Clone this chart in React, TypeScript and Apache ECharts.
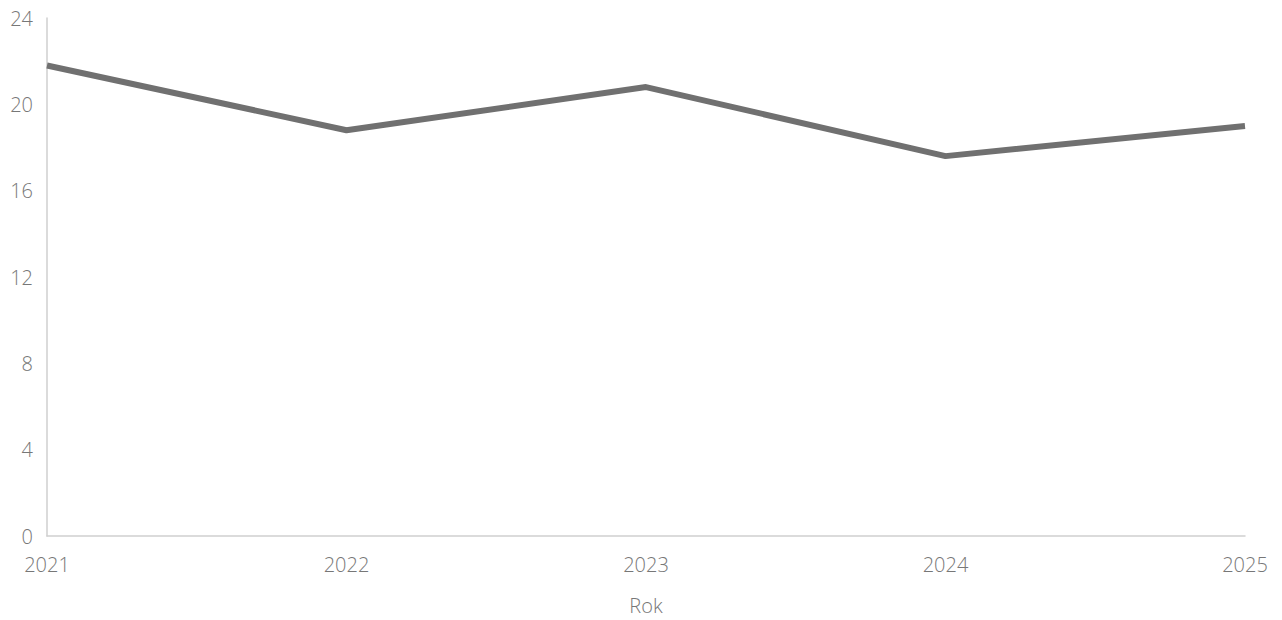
import React, { useEffect, useRef } from "react";
import * as echarts from "echarts";

const years = ["2021", "2022", "2023", "2024", "2025"];
const values = [21.8, 18.8, 20.8, 17.6, 19.0];
const xAxisName = "Rok";

export default function App() {
  const ref = useRef<HTMLDivElement>(null);
  useEffect(() => {
    if (!ref.current) return;
    const chart = echarts.init(ref.current, undefined, { renderer: "svg" });
    chart.setOption({
      animation: false,
      textStyle: { fontFamily: "Open Sans" },
      grid: { left: 47, right: 37, top: 18, bottom: 84, containLabel: false, outerBoundsMode: "none" },
      xAxis: {
        type: "category",
        data: years,
        boundaryGap: false,
        name: xAxisName,
        nameLocation: "middle",
        nameGap: 59,
        nameTextStyle: { color: "#777", fontSize: 20, fontFamily: "Open Sans", fontWeight: 300 },
        axisLine: { lineStyle: { color: "#cfcfcf", width: 1.5 } },
        axisTick: { show: false },
        axisLabel: { color: "#777", fontSize: 20, margin: 18, fontFamily: "Open Sans", fontWeight: 300 },
        splitLine: { show: false },
      },
      yAxis: {
        type: "value",
        min: 0,
        max: 24,
        interval: 4,
        axisLine: { show: true, lineStyle: { color: "#cfcfcf", width: 1.5 } },
        axisTick: { show: false },
        axisLabel: { color: "#777", fontSize: 20, margin: 14, fontFamily: "Open Sans", fontWeight: 300 },
        splitLine: { show: false },
      },
      series: [
        {
          type: "line",
          data: values,
          showSymbol: false,
          symbol: "none",
          lineStyle: { color: "#707070", width: 6 },
        },
      ],
    });
    return () => chart.dispose();
  }, []);
  return <div ref={ref} style={{ width: 1282, height: 620, marginLeft: -8, marginTop: -8 }} />;
}
